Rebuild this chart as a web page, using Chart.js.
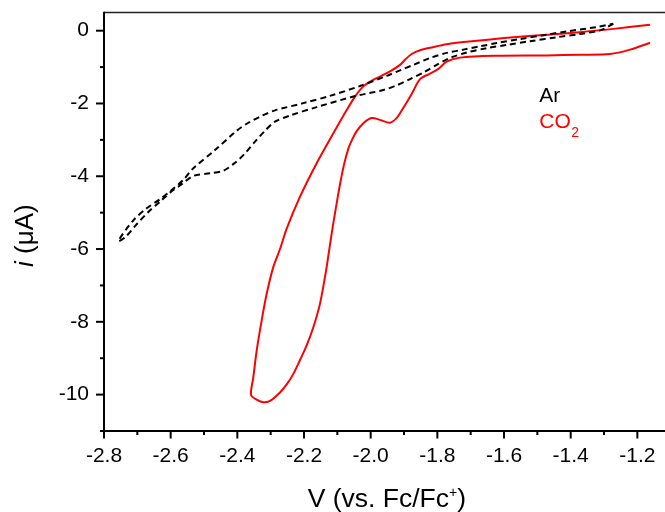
<!DOCTYPE html>
<html><head><meta charset="utf-8">
<script src="https://cdn.jsdelivr.net/npm/chart.js@4.4.0/dist/chart.umd.min.js"></script>
<style>
html,body{margin:0;padding:0;background:#fff;overflow:hidden;width:665px;height:512px}
#wrap{width:665px;height:512px;overflow:hidden;position:relative}
canvas{display:block}
</style></head>
<body><div id="wrap"><canvas id="c" width="700" height="512"></canvas></div>
<script>
// ---- data (potential in V vs Fc/Fc+, current in µA) ----
const arPotential = [-1.272,-1.312,-1.372,-1.442,-1.522,-1.592,-1.652,-1.712,-1.762,-1.802,-1.842,-1.882,-1.922,-1.962,-2.052,-2.162,-2.242,-2.287,-2.317,-2.347,-2.377,-2.407,-2.442,-2.482,-2.532,-2.567,-2.602,-2.632,-2.667,-2.702,-2.737,-2.757,
  -2.712,-2.672,-2.632,-2.597,-2.562,-2.532,-2.467,-2.402,-2.367,-2.327,-2.287,-2.202,-2.122,-2.032,-1.952,-1.912,-1.872,-1.822,-1.772,-1.722,-1.672,-1.622,-1.552,-1.472,-1.412,-1.322,-1.272];
const arCurrent = [0.19,0.01,-0.09,-0.18,-0.29,-0.39,-0.48,-0.60,-0.75,-0.94,-1.15,-1.33,-1.50,-1.63,-1.81,-2.10,-2.33,-2.50,-2.75,-3.05,-3.37,-3.63,-3.85,-3.92,-3.99,-4.22,-4.45,-4.70,-4.98,-5.32,-5.68,-5.78,
  -5.21,-4.88,-4.63,-4.38,-4.10,-3.78,-3.28,-2.75,-2.53,-2.34,-2.19,-1.99,-1.79,-1.52,-1.24,-1.09,-0.94,-0.75,-0.61,-0.52,-0.43,-0.34,-0.23,-0.11,-0.02,0.10,0.19];

const co2Potential = [-1.162,-1.222,-1.282,-1.372,-1.472,-1.622,-1.732,-1.772,-1.797,-1.822,-1.852,-1.877,-1.912,-1.922,-1.942,-1.972,-1.997,-2.022,-2.042,-2.055,-2.067,-2.080,-2.092,-2.104,-2.114,-2.124,-2.134,-2.152,-2.172,-2.192,-2.212,-2.232,-2.252,-2.272,-2.302,-2.322,-2.342,-2.359,
  -2.352,-2.342,-2.327,-2.312,-2.292,-2.272,-2.252,-2.212,-2.162,-2.112,-2.072,-2.047,-2.022,-1.992,-1.972,-1.942,-1.912,-1.895,-1.877,-1.850,-1.822,-1.772,-1.672,-1.572,-1.472,-1.372,-1.272,-1.162];
const co2Current = [-0.33,-0.52,-0.64,-0.66,-0.68,-0.69,-0.74,-0.85,-1.05,-1.18,-1.33,-1.74,-2.27,-2.40,-2.53,-2.45,-2.40,-2.54,-2.76,-2.98,-3.24,-3.68,-4.22,-4.85,-5.40,-6.00,-6.60,-7.50,-8.15,-8.65,-9.05,-9.43,-9.72,-9.94,-10.17,-10.21,-10.14,-10.01,
  -9.52,-8.79,-7.96,-7.23,-6.49,-6.00,-5.44,-4.56,-3.64,-2.82,-2.18,-1.81,-1.53,-1.35,-1.26,-1.12,-0.94,-0.78,-0.64,-0.53,-0.47,-0.37,-0.27,-0.18,-0.11,-0.04,0.05,0.165];

const seriesNames = ['Ar', 'CO2'];
const xTickLabels = ['-2.8','-2.6','-2.4','-2.2','-2.0','-1.8','-1.6','-1.4','-1.2'];
const yTickLabels = ['0','-2','-4','-6','-8','-10'];
const xTitle = 'V (vs. Fc/Fc';
const yTitle = ' (\u03bcA)';

const FONT = '"Liberation Sans", Arial, Helvetica, sans-serif';
const pts = (xs, ys) => xs.map((x, i) => ({x, y: ys[i]}));

const framePlugin = {
  id: 'frame',
  afterDraw(chart) {
    const {ctx, chartArea: a, scales: {x, y}} = chart;
    ctx.save();
    ctx.lineCap = 'butt';
    // top border
    ctx.lineWidth = 1.5;
    ctx.strokeStyle = '#222';
    ctx.beginPath(); ctx.moveTo(a.left, a.top); ctx.lineTo(chart.width, a.top); ctx.stroke();
    ctx.strokeStyle = '#000';
    ctx.lineWidth = 2;
    // left axis
    ctx.beginPath(); ctx.moveTo(a.left, a.top - 0.75); ctx.lineTo(a.left, a.bottom + 1); ctx.stroke();
    // bottom axis
    ctx.beginPath(); ctx.moveTo(a.left - 4, a.bottom); ctx.lineTo(chart.width, a.bottom); ctx.stroke();
    // y ticks
    y.ticks.forEach(t => {
      const py = y.getPixelForValue(t.value);
      const major = yTickLabels.includes(String(Math.round(t.value)));
      ctx.beginPath(); ctx.moveTo(a.left - (major ? 8 : 4), py); ctx.lineTo(a.left, py); ctx.stroke();
    });
    // x ticks
    x.ticks.forEach(t => {
      const px = x.getPixelForValue(t.value);
      const major = xTickLabels.includes(t.value.toFixed(1));
      ctx.beginPath(); ctx.moveTo(px, a.bottom); ctx.lineTo(px, a.bottom + (major ? 7.5 : 4)); ctx.stroke();
    });
    ctx.fillStyle = '#000';
    ctx.textBaseline = 'alphabetic';
    ctx.textAlign = 'left';
    // x title
    let cx = 307.7;
    ctx.font = '26.5px ' + FONT;
    ctx.fillText(xTitle, cx, 507);
    cx += ctx.measureText(xTitle).width;
    ctx.font = '14px ' + FONT;
    ctx.fillText('+', cx, 497);
    cx += ctx.measureText('+').width;
    ctx.font = '26.5px ' + FONT;
    ctx.fillText(')', cx, 507);
    // y title (rotated)
    ctx.save();
    ctx.translate(33, 267);
    ctx.rotate(-Math.PI / 2);
    ctx.font = 'italic 26px ' + FONT;
    ctx.fillText('i', 0, 0);
    const w = ctx.measureText('i').width;
    ctx.font = '26px ' + FONT;
    ctx.fillText(yTitle, w, 0);
    ctx.restore();
    // legend text
    ctx.font = '21px ' + FONT;
    ctx.fillStyle = '#000';
    ctx.fillText(seriesNames[0], 539.3, 102.3);
    ctx.fillStyle = '#ff0000';
    ctx.fillText('CO', 539.3, 128.3);
    const cw = ctx.measureText('CO').width;
    ctx.font = '14px ' + FONT;
    ctx.fillText('2', 539.3 + cw + 0.5, 136.5);
    ctx.restore();
  }
};

function zeroPad(s) { s.paddingTop = 0; s.paddingBottom = 0; s.paddingLeft = 0; s.paddingRight = 0; }

new Chart(document.getElementById('c'), {
  type: 'scatter',
  data: {
    datasets: [
      {label: seriesNames[0], data: pts(arPotential, arCurrent), showLine: true, borderColor: '#000', borderWidth: 2,
       borderDash: [6, 4], pointRadius: 0, tension: 0.3, fill: false},
      {label: seriesNames[1], data: pts(co2Potential, co2Current), showLine: true, borderColor: '#ff0000', borderWidth: 2,
       pointRadius: 0, tension: 0.3, fill: false}
    ]
  },
  options: {
    responsive: false, animation: false, devicePixelRatio: 1,
    layout: {padding: {top: 12.5, right: 29.3, left: 0, bottom: 0}},
    plugins: {legend: {display: false}, tooltip: {enabled: false}},
    scales: {
      x: {
        type: 'linear', min: -2.8, max: -1.1,
        afterFit(s) { s.height = 81; zeroPad(s); },
        grid: {display: true, drawOnChartArea: false, drawTicks: false},
        border: {display: false},
        ticks: {stepSize: 0.1, autoSkip: false, maxRotation: 0, includeBounds: false, padding: 13, color: '#000',
          font: {family: FONT, size: 21},
          callback(v) { const s = Number(v).toFixed(1); return xTickLabels.includes(s) ? s : ''; }}
      },
      y: {
        type: 'linear', min: -11, max: 0.5,
        afterFit(s) { s.width = 104; zeroPad(s); },
        grid: {display: true, drawOnChartArea: false, drawTicks: false},
        border: {display: false},
        ticks: {stepSize: 1, includeBounds: false, padding: 15, color: '#000',
          font: {family: FONT, size: 21},
          callback(v) { const s = String(Math.round(v)); return yTickLabels.includes(s) ? s : ''; }}
      }
    }
  },
  plugins: [framePlugin]
});
</script>
</body></html>
